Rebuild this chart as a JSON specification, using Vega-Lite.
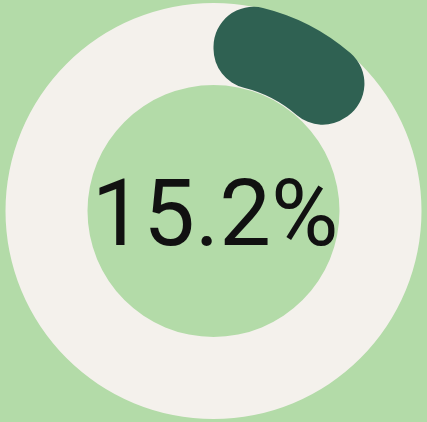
{
  "$schema": "https://vega.github.io/schema/vega-lite/v6.json",
  "width": 427,
  "height": 422,
  "autosize": {"type": "fit", "contains": "padding"},
  "padding": 0,
  "background": "#B3DBA8",
  "config": {"view": {"stroke": null}},
  "data": {"values": [{"part": "share", "value": 15.2, "label": "15.2%"}]},
  "layer": [
    {
      "data": {"values": [{"part": "all", "value": 100}]},
      "mark": {"type": "arc", "radius": 208, "radius2": 126, "color": "#F4F1EC"},
      "encoding": {
        "theta": {"field": "value", "type": "quantitative", "scale": {"domain": [0, 100]}}
      }
    },
    {
      "mark": {"type": "arc", "radius": 209, "radius2": 127, "cornerRadius": 40, "color": "#2F6152"},
      "encoding": {
        "theta": {"field": "value", "type": "quantitative", "scale": {"domain": [0, 100]}}
      }
    },
    {
      "mark": {"type": "text", "font": "Roboto", "fontSize": 92, "fontWeight": 400, "color": "#111111", "align": "center", "baseline": "alphabetic", "dy": 34, "dx": 1.5},
      "encoding": {"text": {"field": "label", "type": "nominal"}}
    }
  ]
}
